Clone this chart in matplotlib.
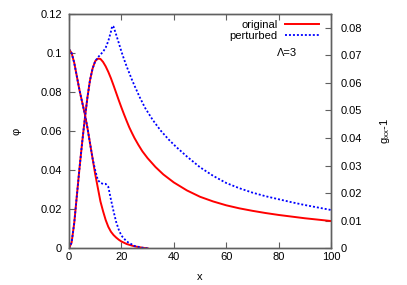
import matplotlib
matplotlib.use("Agg")
import matplotlib.pyplot as plt

plt.rcParams['font.family'] = ['Liberation Sans', 'DejaVu Sans']
plt.rcParams['mathtext.fontset'] = 'custom'
plt.rcParams['mathtext.rm'] = 'Liberation Sans'
plt.rcParams['mathtext.it'] = 'Liberation Sans'

# phi (left axis)
x_phi = [0, 1, 2, 3, 4, 5, 6, 7, 8, 9, 10, 11, 12, 13, 14, 15, 16, 17, 18, 19, 20, 22, 25, 28, 30]
phi_orig = [0.102, 0.100, 0.095, 0.088, 0.081, 0.075, 0.069, 0.062, 0.054, 0.046, 0.038, 0.031,
            0.024, 0.019, 0.0145, 0.011, 0.0085, 0.0068, 0.0055, 0.0044, 0.0035, 0.0022, 0.0010, 0.0003, 0.0]
phi_pert = [0.102, 0.100, 0.095, 0.088, 0.081, 0.075, 0.069, 0.062, 0.054, 0.046, 0.040, 0.035,
            0.0335, 0.033, 0.033, 0.0315, 0.025, 0.019, 0.0135, 0.0095, 0.0065, 0.0035, 0.0012, 0.0003, 0.0]

# g_xx - 1 (right axis)
x_g = [0, 1, 2, 3, 4, 5, 6, 7, 8, 9, 10, 11, 12, 13, 14, 15, 16, 17, 18, 19, 20, 21, 22, 23, 24, 25,
       26.5, 28, 30, 33, 36, 40, 45, 50, 55, 60, 65, 70, 75, 80, 85, 90, 95, 100]
g_orig = [0, 0.0021, 0.0092, 0.0191, 0.029, 0.0382, 0.0467, 0.0545, 0.0609, 0.0652, 0.0679, 0.0688,
          0.0687, 0.0676, 0.0660, 0.0640, 0.0617, 0.0591, 0.0564, 0.0537, 0.0511, 0.0486, 0.0462, 0.0439,
          0.0419, 0.0400, 0.0375, 0.0352, 0.0327, 0.0295, 0.0268, 0.0239, 0.0210, 0.0187, 0.0170, 0.0156,
          0.0145, 0.0136, 0.0128, 0.0121, 0.0115, 0.0109, 0.0104, 0.0099]
x_gp = [0, 1, 2, 3, 4, 5, 6, 7, 8, 9, 10, 11, 12, 13, 14, 15, 16, 16.5, 17, 18, 19, 20, 21, 22, 23, 24,
        25, 27, 29, 32, 35, 38, 41, 45, 50, 55, 60, 65, 70, 75, 80, 85, 90, 95, 100]
g_pert = [0, 0.0021, 0.0092, 0.0191, 0.029, 0.0382, 0.0467, 0.0545, 0.0609, 0.0652, 0.0679, 0.0692,
          0.0703, 0.0713, 0.0728, 0.0752, 0.0786, 0.0807, 0.0804, 0.0775, 0.0745, 0.0714, 0.0686, 0.0660,
          0.0636, 0.0612, 0.0590, 0.0548, 0.0510, 0.0465, 0.0427, 0.0395, 0.0367, 0.0333, 0.0294, 0.0263,
          0.0237, 0.0218, 0.0202, 0.0189, 0.0178, 0.0167, 0.0157, 0.0148, 0.0139]

red = '#ff0000'
blue = '#0000ff'
frame = '#606060'
dots = (0, (1.1, 1.1))
fs = 8

fig = plt.figure(figsize=(4.07, 2.85), dpi=100)
ax = fig.add_axes([69/407, 1-248.3/285, 262/407, 234.3/285])
ax2 = ax.twinx()

ax.plot(x_phi, phi_orig, color=red, lw=1.4)
ax.plot(x_phi, phi_pert, color=blue, lw=1.3, ls=dots)
l1, = ax2.plot(x_g, g_orig, color=red, lw=1.4, label='original')
l2, = ax2.plot(x_gp, g_pert, color=blue, lw=1.3, ls=dots, label='perturbed')

ax.set_xlim(0, 100)
ax.set_ylim(0, 0.12)
ax2.set_ylim(0, 0.085)
ax.set_xticks([0, 20, 40, 60, 80, 100])
ax.set_yticks([0, 0.02, 0.04, 0.06, 0.08, 0.1, 0.12])
ax.set_yticklabels(['0', '0.02', '0.04', '0.06', '0.08', '0.1', '0.12'])
ax2.set_yticks([0, 0.01, 0.02, 0.03, 0.04, 0.05, 0.06, 0.07, 0.08])
ax2.set_yticklabels(['0', '0.01', '0.02', '0.03', '0.04', '0.05', '0.06', '0.07', '0.08'])

ax.tick_params(axis='x', direction='in', top=True, length=4, width=0.8, color=frame, labelsize=fs, pad=3)
ax.tick_params(axis='y', direction='in', right=False, length=4, width=0.8, color=frame, labelsize=fs, pad=5)
ax2.tick_params(axis='y', direction='in', length=4, width=0.8, color=frame, labelsize=fs, pad=7)
for a in (ax, ax2):
    for s in a.spines.values():
        s.set_color(frame)
        s.set_linewidth(1.0)

ax.set_xlabel('x', fontsize=fs)
ax.xaxis.set_label_coords(0.5, -0.10)
ax.set_ylabel('φ', fontsize=fs)
ax.yaxis.set_label_coords(-0.18, 0.5)
ax2.set_ylabel('g$_{xx}$-1', fontsize=fs)
ax2.yaxis.set_label_coords(1.18, 0.5)

ax2.legend(handles=[l1, l2], loc='upper right', bbox_to_anchor=(0.953, 0.975), frameon=False,
           markerfirst=False, fontsize=fs, handlelength=3.0, handletextpad=0.7, labelspacing=0.1,
           borderpad=0, borderaxespad=0)
ax2.text(0.832, 0.833, 'Λ=3', transform=ax2.transAxes, fontsize=fs, ha='center', va='center')

fig.savefig('out.png', dpi=100)
